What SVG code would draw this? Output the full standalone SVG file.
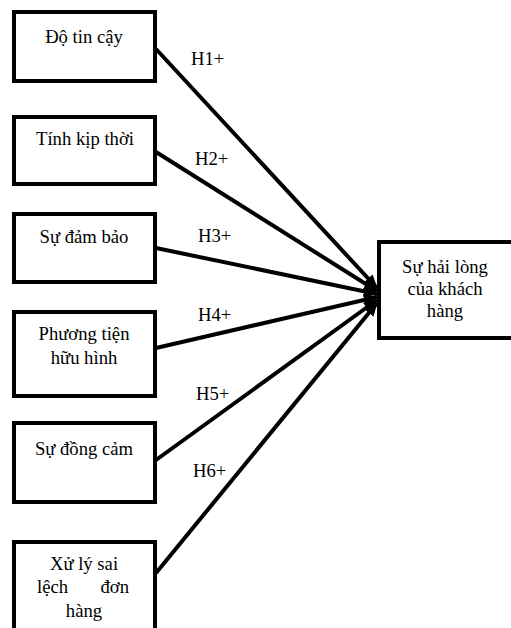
<svg xmlns="http://www.w3.org/2000/svg" width="511" height="628" viewBox="0 0 511 628">
<style>
.box{fill:#fff;stroke:#000;stroke-width:4}
text{font-family:'Liberation Serif','DejaVu Serif',serif;font-size:18.67px;fill:#000}
.c{text-anchor:middle}
.e{text-anchor:end}
.ln{stroke:#000;stroke-width:4;fill:none;marker-end:url(#ah)}
</style>
<defs>
<marker id="ah" markerUnits="userSpaceOnUse" markerWidth="14" markerHeight="12" refX="13" refY="6" orient="auto">
<path d="M0,0 L14,6 L0,12 Z" fill="#000"/>
</marker>
</defs>
<rect width="511" height="628" fill="#fff"/>
<g id="connectors">
<line class="ln" x1="156" y1="49" x2="377" y2="288"/>
<line class="ln" x1="156" y1="152" x2="377" y2="291"/>
<line class="ln" x1="156" y1="248" x2="377" y2="294"/>
<line class="ln" x1="156" y1="348" x2="377" y2="297"/>
<line class="ln" x1="156" y1="460" x2="377" y2="300"/>
<line class="ln" x1="156" y1="573" x2="377" y2="303"/>
<text x="191" y="65">H1+</text>
<text x="195" y="165">H2+</text>
<text x="198" y="242">H3+</text>
<text x="198" y="321">H4+</text>
<text x="196" y="400">H5+</text>
<text x="193" y="477">H6+</text>
</g>
<g id="n1"><rect class="box" x="14" y="12" width="141" height="69"/><text class="c" x="84" y="43">Độ tin cậy</text></g>
<g id="n2"><rect class="box" x="14" y="117" width="141" height="67"/><text class="c" x="85" y="145">Tính kịp thời</text></g>
<g id="n3"><rect class="box" x="14" y="214" width="141" height="68"/><text class="c" x="84" y="243">Sự đảm bảo</text></g>
<g id="n4"><rect class="box" x="14" y="312" width="141" height="84"/><text class="c" x="84" y="340">Phương tiện</text><text class="c" x="84" y="364">hữu hình</text></g>
<g id="n5"><rect class="box" x="14" y="423" width="141" height="79"/><text class="c" x="84" y="455">Sự đồng cảm</text></g>
<g id="n6"><rect class="box" x="14" y="542" width="141" height="100"/><text class="c" x="84" y="570">Xử lý sai</text><text x="37" y="593">lệch</text><text class="e" x="129" y="593">đơn</text><text class="c" x="84" y="617">hàng</text></g>
<g id="n7"><rect class="box" x="379" y="242" width="140" height="96"/><text class="c" x="445" y="273">Sự hải lòng</text><text class="c" x="445" y="295">của khách</text><text class="c" x="445" y="317">hàng</text></g>
</svg>
